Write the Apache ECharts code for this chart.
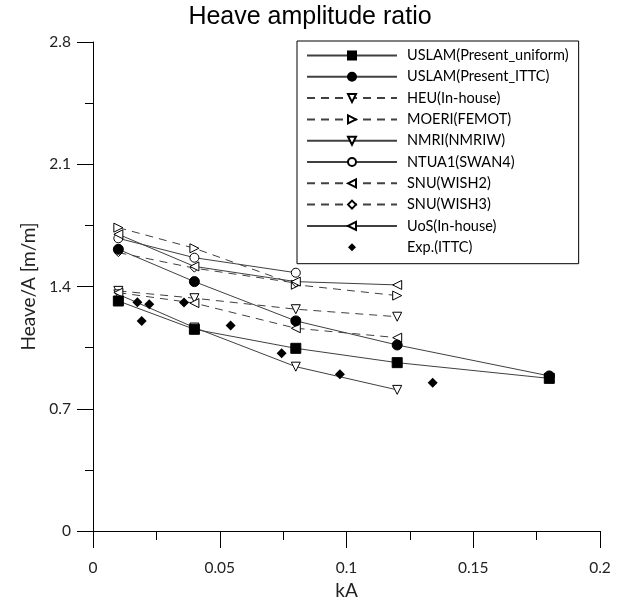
<!DOCTYPE html>
<html>
<head>
<meta charset="utf-8">
<script src="https://cdn.jsdelivr.net/npm/echarts@6/dist/echarts.min.js"></script>
<style>html,body{margin:0;padding:0;background:#fff}#c{width:622px;height:603px}</style>
</head>
<body>
<div id="c"></div>
<script>
// kA values of the computations
const kA4 = [0.01, 0.04, 0.08, 0.12];
const kA5 = [0.01, 0.04, 0.08, 0.12, 0.18];
const kA3 = [0.01, 0.04, 0.08];

const uslamUniform = [1.317, 1.155, 1.046, 0.964, 0.874];
const uslamITTC    = [1.613, 1.428, 1.203, 1.065, 0.888];
const heu          = [1.375, 1.333, 1.270, 1.227];
const moeri        = [1.737, 1.619, 1.410, 1.348];
const nmri         = [1.355, 1.165, 0.941, 0.808];
const ntua1        = [1.676, 1.565, 1.479];
const snuWish2     = [1.365, 1.305, 1.161, 1.107];
const snuWish3     = [1.594, 1.505, 1.420];
const uos          = [1.699, 1.515, 1.428, 1.409];

const expKA  = [0.0175, 0.0192, 0.0222, 0.0359, 0.0543, 0.0744, 0.0974, 0.134];
const expVal = [1.310, 1.203, 1.298, 1.308, 1.176, 1.018, 0.898, 0.849];

const xTicks = [0, 0.05, 0.1, 0.15, 0.2];
const yTicks = [0, 0.7, 1.4, 2.1, 2.8];

const pair = (xs, ys) => xs.map((x, i) => [x, ys[i]]);
const LINE = '#404040';
const FONT = 'Lato';

function lineSeries(name, xs, ys, symbol, rot, filled, dashed, size) {
  return {
    name, type: 'line', data: pair(xs, ys),
    symbol, symbolRotate: rot, symbolSize: size,
    lineStyle: { color: LINE, width: 1, type: dashed ? [8, 6] : 'solid' },
    itemStyle: { color: filled ? '#000' : '#fff', borderColor: '#000', borderWidth: 1 },
    emphasis: { disabled: true }, animation: false, z: filled ? 3 : 2
  };
}

const chart = echarts.init(document.getElementById('c'), null, { renderer: 'canvas' });
chart.setOption({
  backgroundColor: '#fff',
  animation: false,
  title: {
    text: 'Heave amplitude ratio', left: 305, textAlign: 'center', top: 0,
    textStyle: { fontFamily: 'Liberation Sans', fontSize: 25, fontWeight: 'normal', color: '#000' }
  },
  grid: { left: 93, right: 22, top: 42, bottom: 72, containLabel: false, outerBoundsMode: 'none' },
  legend: {
    orient: 'vertical', left: 297, top: 41,
    padding: [7, 10, 9, 9], itemGap: 6.3, itemWidth: 90, itemHeight: 10,
    borderColor: '#000', borderWidth: 1, backgroundColor: '#fff',
    textStyle: { fontFamily: FONT, fontSize: 14.5, lineHeight: 14, color: '#000', padding: [0, 0, 0, 5] },
    data: ['USLAM(Present_uniform)', 'USLAM(Present_ITTC)', 'HEU(In-house)', 'MOERI(FEMOT)',
           'NMRI(NMRIW)', 'NTUA1(SWAN4)', 'SNU(WISH2)', 'SNU(WISH3)', 'UoS(In-house)', 'Exp.(ITTC)']
  },
  xAxis: {
    type: 'value', min: xTicks[0], max: xTicks[xTicks.length - 1], interval: 0.05,
    name: 'kA', nameLocation: 'middle', nameGap: 50,
    nameTextStyle: { fontFamily: FONT, fontSize: 19, color: '#222' },
    axisLine: { show: true, onZero: false, lineStyle: { color: '#000', width: 1 } },
    axisTick: { show: true, inside: false, length: 17, lineStyle: { color: '#000' } },
    minorTick: { show: true, splitNumber: 2, length: 9, lineStyle: { color: '#000' } },
    splitLine: { show: false },
    axisLabel: { margin: 29, fontFamily: FONT, fontSize: 15.5, color: '#222',
      formatter: v => String(+v.toFixed(3)) }
  },
  yAxis: {
    type: 'value', min: yTicks[0], max: yTicks[yTicks.length - 1], interval: 0.7,
    name: 'Heave/A [m/m]', nameLocation: 'middle', nameGap: 49,
    nameTextStyle: { fontFamily: FONT, fontSize: 19, color: '#222' },
    axisLine: { show: true, onZero: false, lineStyle: { color: '#000', width: 1 } },
    axisTick: { show: true, inside: false, length: 16, lineStyle: { color: '#000' } },
    minorTick: { show: true, splitNumber: 2, length: 8, lineStyle: { color: '#000' } },
    splitLine: { show: false },
    axisLabel: { margin: 22, fontFamily: FONT, fontSize: 15.5, color: '#222',
      formatter: v => String(+v.toFixed(3)) }
  },
  series: [
    lineSeries('USLAM(Present_uniform)', kA5, uslamUniform, 'rect', 0, true, false, 10),
    lineSeries('USLAM(Present_ITTC)', kA5, uslamITTC, 'circle', 0, true, false, 10),
    lineSeries('HEU(In-house)', kA4, heu, 'triangle', 180, false, true, 9),
    lineSeries('MOERI(FEMOT)', kA4, moeri, 'triangle', -90, false, true, 9),
    lineSeries('NMRI(NMRIW)', kA4, nmri, 'triangle', 180, false, false, 9),
    lineSeries('NTUA1(SWAN4)', kA3, ntua1, 'circle', 0, false, false, 9),
    lineSeries('SNU(WISH2)', kA4, snuWish2, 'triangle', 90, false, true, 9),
    lineSeries('SNU(WISH3)', kA3, snuWish3, 'diamond', 0, false, true, 8),
    lineSeries('UoS(In-house)', kA4, uos, 'triangle', 90, false, false, 9),
    {
      name: 'Exp.(ITTC)', type: 'line', data: pair(expKA, expVal),
      symbol: 'diamond', symbolSize: 10,
      lineStyle: { opacity: 0, width: 0 },
      itemStyle: { color: '#000', borderColor: '#000', borderWidth: 0 },
      emphasis: { disabled: true }, z: 4
    }
  ]
});
</script>
</body>
</html>
